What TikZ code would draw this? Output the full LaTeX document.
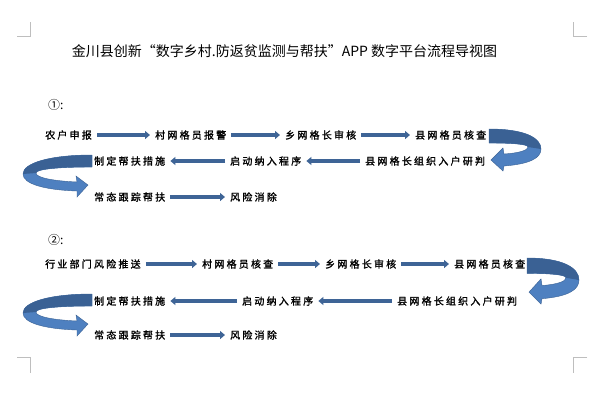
\documentclass[tikz,border=0pt]{standalone}
\usepackage{fontspec}
\usetikzlibrary{arrows.meta}
\newfontfamily\cjktitle{Noto Sans CJK SC}
\newfontfamily\cjkbody[LetterSpace=22,FakeBold=1.4]{Noto Sans CJK SC}
\definecolor{flowblue}{RGB}{62,100,150}
\definecolor{loopdark}{RGB}{58,97,148}
\definecolor{looplight}{RGB}{78,128,192}
\definecolor{markgray}{RGB}{190,190,190}
\tikzset{
    flowchart/.style={
        x=1pt, y=1pt,
        stepnode/.style={anchor=west, inner sep=2pt, font=\cjkbody\fontsize{10}{12}\selectfont},
        numnode/.style={anchor=west, inner sep=0pt, font=\cjktitle\fontsize{12}{14}\selectfont},
        flow/.style={-{Triangle[length=5pt, width=8pt]}, line width=3.4pt, draw=flowblue, shorten <=3pt, shorten >=3pt},
        cropmark/.style={markgray, line width=0.8pt},
    },
    loopright/.pic={
        \fill[looplight, draw=loopdark, line width=0.4pt] (0,0) .. controls (36,0) and (52,-9) .. (52,-20)
            .. controls (52,-29) and (41,-35) .. (15,-37) -- (14,-42) -- (2,-31) -- (14,-19) -- (15,-25)
            .. controls (31,-24) and (39,-21) .. (39,-18) .. controls (39,-15) and (21,-14) .. (0,-14) -- cycle;
        \fill[loopdark] (0,0) .. controls (36,0) and (52,-9) .. (52,-20) -- (39,-18)
            .. controls (39,-15) and (21,-14) .. (0,-14) -- cycle;
    },
    loopleft/.pic={
        \fill[looplight, draw=loopdark, line width=0.4pt] (0,0) .. controls (-42,0) and (-69,-8) .. (-69,-19)
            .. controls (-69,-29) and (-47,-35) .. (-15,-36) -- (-15,-42) -- (-4,-30) -- (-16,-21) -- (-15,-27)
            .. controls (-37,-26) and (-56,-23) .. (-56,-18) .. controls (-56,-14) and (-32,-12) .. (0,-12) -- cycle;
        \fill[loopdark] (0,0) .. controls (-42,0) and (-69,-8) .. (-69,-19) -- (-56,-18)
            .. controls (-56,-14) and (-32,-12) .. (0,-12) -- cycle;
    },
}

\begin{document}
\begin{tikzpicture}[flowchart]
            \fill[white] (0,0) rectangle (600,-400);
            \useasboundingbox (0,0) rectangle (600,-400);
            \draw[cropmark] (17,-36.5) -- (30.5,-36.5) -- (30.5,-22);
            \draw[cropmark] (587,-36.5) -- (573,-36.5) -- (573,-22);
            \draw[cropmark] (17,-357.5) -- (30.5,-357.5) -- (30.5,-373);
            \draw[cropmark] (587,-357.5) -- (573,-357.5) -- (573,-373);

            \node[font=\cjktitle\fontsize{14}{16}\selectfont] (title) at (284.5,-51) {金川县创新“数字乡村.防返贫监测与帮扶”APP 数字平台流程导视图};

            \node[numnode] (one) at (48,-105) {①:};
            \node[stepnode] (a1) at (43,-135)  {农户申报};
            \node[stepnode] (a2) at (153,-135) {村网格员报警};
            \node[stepnode] (a3) at (283,-135) {乡网格长审核};
            \node[stepnode] (a4) at (413,-135) {县网格员核查};
            \node[stepnode] (a5) at (363,-161) {县网格长组织入户研判};
            \node[stepnode] (a6) at (228,-161) {启动纳入程序};
            \node[stepnode] (a7) at (92,-161)  {制定帮扶措施};
            \node[stepnode] (a8) at (92,-197)  {常态跟踪帮扶};
            \node[stepnode] (a9) at (228,-197) {风险消除};
            \draw[flow] (a1) -- (a2);
            \draw[flow] (a2) -- (a3);
            \draw[flow] (a3) -- (a4);
            \draw[flow] (a5) -- (a6);
            \draw[flow] (a6) -- (a7);
            \draw[flow] (a8) -- (a9);
            \pic at (489,-129) {loopright};
            \pic at (92,-155) {loopleft};

            \node[numnode] (two) at (48,-240) {②:};
            \node[stepnode] (b1) at (43,-264)  {行业部门风险推送};
            \node[stepnode] (b2) at (200,-264) {村网格员核查};
            \node[stepnode] (b3) at (323,-264) {乡网格长审核};
            \node[stepnode] (b4) at (452,-264) {县网格员核查};
            \node[stepnode] (b5) at (395,-301) {县网格长组织入户研判};
            \node[stepnode] (b6) at (240,-301) {启动纳入程序};
            \node[stepnode] (b7) at (92,-301)  {制定帮扶措施};
            \node[stepnode] (b8) at (92,-335)  {常态跟踪帮扶};
            \node[stepnode] (b9) at (228,-335) {风险消除};
            \draw[flow] (b1) -- (b2);
            \draw[flow] (b2) -- (b3);
            \draw[flow] (b3) -- (b4);
            \draw[flow] (b5) -- (b6);
            \draw[flow] (b6) -- (b7);
            \draw[flow] (b8) -- (b9);
            \pic[yscale=1.1] at (527,-258) {loopright};
            \pic at (92,-294) {loopleft};
        \end{tikzpicture}
\end{document}
